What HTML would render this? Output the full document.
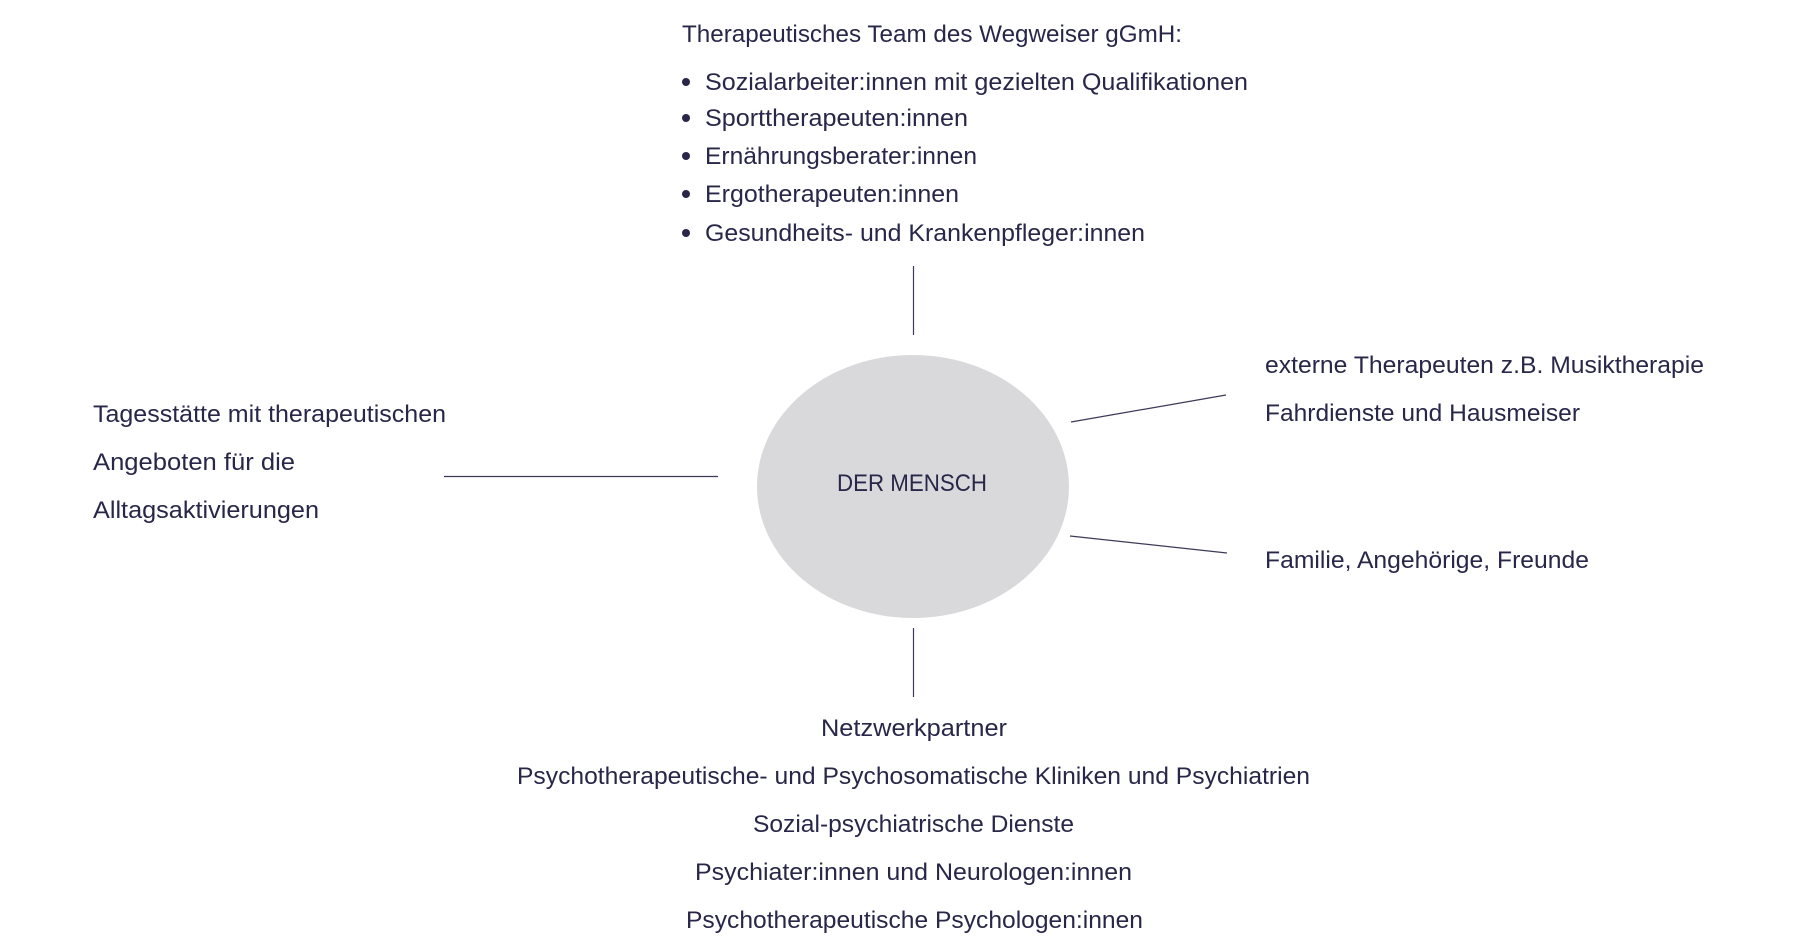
<!DOCTYPE html>
<html>
<head>
<meta charset="utf-8">
<style>
  html,body{margin:0;padding:0;background:#ffffff;}
  svg{display:block;}
  text{font-family:"Liberation Sans", sans-serif;font-size:24.5px;fill:#28274a;}
</style>
</head>
<body>
<svg width="1800" height="942" viewBox="0 0 1800 942" xmlns="http://www.w3.org/2000/svg">
  <rect width="1800" height="942" fill="#ffffff"/>

  <!-- Top block -->
  <text x="682" y="42" textLength="500" lengthAdjust="spacingAndGlyphs">Therapeutisches Team des Wegweiser gGmH:</text>
  <circle cx="686" cy="82" r="4" fill="#28274a"/>
  <text x="705" y="90" textLength="543" lengthAdjust="spacingAndGlyphs">Sozialarbeiter:innen mit gezielten Qualifikationen</text>
  <circle cx="686" cy="118" r="4" fill="#28274a"/>
  <text x="705" y="126" textLength="263" lengthAdjust="spacingAndGlyphs">Sporttherapeuten:innen</text>
  <circle cx="686" cy="156" r="4" fill="#28274a"/>
  <text x="705" y="164" textLength="272" lengthAdjust="spacingAndGlyphs">Ernährungsberater:innen</text>
  <circle cx="686" cy="194" r="4" fill="#28274a"/>
  <text x="705" y="202" textLength="254" lengthAdjust="spacingAndGlyphs">Ergotherapeuten:innen</text>
  <circle cx="686" cy="233" r="4" fill="#28274a"/>
  <text x="705" y="241" textLength="440" lengthAdjust="spacingAndGlyphs">Gesundheits- und Krankenpfleger:innen</text>

  <!-- Connectors -->
  <g stroke="#3b3a58" stroke-width="1.2" fill="none">
    <line x1="913.5" y1="266" x2="913.5" y2="335"/>
    <line x1="913.5" y1="628" x2="913.5" y2="697"/>
    <line x1="444" y1="476.5" x2="718" y2="476.5"/>
    <line x1="1071" y1="422" x2="1226" y2="395"/>
    <line x1="1070" y1="536" x2="1227" y2="553"/>
  </g>

  <!-- Center ellipse -->
  <ellipse cx="913" cy="486.5" rx="156" ry="131.5" fill="#d9d9dc"/>
  <text x="837" y="491" textLength="150" lengthAdjust="spacingAndGlyphs">DER MENSCH</text>

  <!-- Left block -->
  <text x="93" y="422" textLength="353" lengthAdjust="spacingAndGlyphs">Tagesstätte mit therapeutischen</text>
  <text x="93" y="470" textLength="202" lengthAdjust="spacingAndGlyphs">Angeboten für die</text>
  <text x="93" y="518" textLength="226" lengthAdjust="spacingAndGlyphs">Alltagsaktivierungen</text>

  <!-- Right block -->
  <text x="1265" y="373" textLength="439" lengthAdjust="spacingAndGlyphs">externe Therapeuten z.B. Musiktherapie</text>
  <text x="1265" y="421" textLength="315" lengthAdjust="spacingAndGlyphs">Fahrdienste und Hausmeiser</text>
  <text x="1265" y="568" textLength="324" lengthAdjust="spacingAndGlyphs">Familie, Angehörige, Freunde</text>

  <!-- Bottom block -->
  <text x="821" y="736" textLength="186" lengthAdjust="spacingAndGlyphs">Netzwerkpartner</text>
  <text x="517" y="784" textLength="793" lengthAdjust="spacingAndGlyphs">Psychotherapeutische- und Psychosomatische Kliniken und Psychiatrien</text>
  <text x="753" y="832" textLength="321" lengthAdjust="spacingAndGlyphs">Sozial-psychiatrische Dienste</text>
  <text x="695" y="880" textLength="437" lengthAdjust="spacingAndGlyphs">Psychiater:innen und Neurologen:innen</text>
  <text x="686" y="928" textLength="457" lengthAdjust="spacingAndGlyphs">Psychotherapeutische Psychologen:innen</text>
</svg>
</body>
</html>
